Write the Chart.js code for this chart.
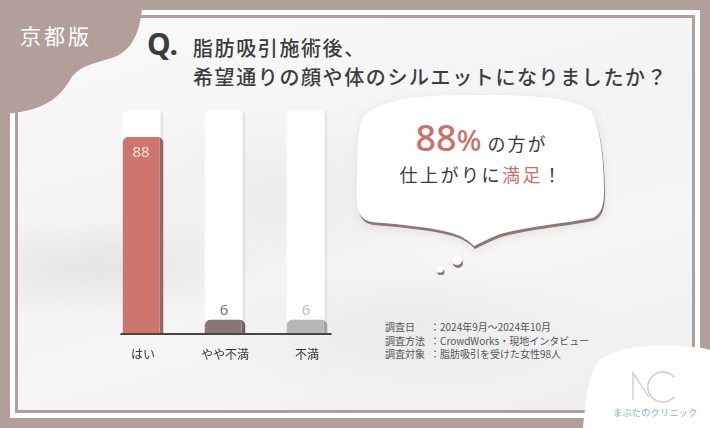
<!DOCTYPE html>
<html lang="ja">
<head>
<meta charset="utf-8">
<script src="https://cdn.jsdelivr.net/npm/chart.js@4.4.1/dist/chart.umd.min.js"></script>
<style>
  html, body { margin: 0; padding: 0; }
  body {
    width: 710px; height: 428px; position: relative; overflow: hidden;
    background: #b39f99;
    font-family: "Noto Sans CJK JP", "Noto Sans", sans-serif;
  }
  .frame { position: absolute; left: 10px; top: 10px; width: 690px; height: 408px; background: #fff; }
  .panel {
    position: absolute; left: 15px; top: 15px; width: 680px; height: 398px;
    box-sizing: border-box; border: 3px solid #b39f99;
    background:
      radial-gradient(ellipse 170px 50px at 80px 250px, rgba(222,222,222,0.7), rgba(222,222,222,0)),
      radial-gradient(ellipse 220px 70px at 380px 310px, rgba(228,228,228,0.6), rgba(228,228,228,0)),
      radial-gradient(ellipse 160px 90px at 260px 180px, rgba(232,232,232,0.6), rgba(232,232,232,0)),
      linear-gradient(165deg, #fafafa 0%, #f3f3f3 45%, #f6f6f6 65%, #eeeeee 100%);
  }
  svg.deco { position: absolute; left: 0; top: 0; }
  .area { position: absolute; color: #fff; font-size: 21px; letter-spacing: 3px; left: 20px; top: 20px; }
  .q { position: absolute; left: 147px; top: 23px; font-size: 30px; font-weight: 700; color: #3d3d3d; font-family: "Noto Sans", sans-serif; }
  .title { position: absolute; left: 193px; font-size: 20px; font-weight: 500; color: #3d3d3d; letter-spacing: 1.6px; white-space: nowrap; }
  .bubble-text { position: absolute; left: 360px; width: 243px; text-align: center; color: #3a3a3a; white-space: nowrap; }
  .red { color: #c9716b; }
  .note { position: absolute; left: 385px; top: 320px; font-size: 10px; line-height: 13.5px; color: #555; white-space: nowrap; }
  .note span { display: inline-block; width: 45px; }
  .brand { position: absolute; left: 613px; top: 406px; font-size: 9px; letter-spacing: 0.4px; color: #7eb4d2; white-space: nowrap; }
  canvas { position: absolute; left: 0; top: 0; }
</style>
</head>
<body>
<div class="frame"></div>
<div class="panel"></div>
<svg class="deco" width="710" height="428" viewBox="0 0 710 428">
  <defs>
    <filter id="bub" x="-10%" y="-10%" width="130%" height="140%">
      <feDropShadow dx="1" dy="3" stdDeviation="0.4" flood-color="#8e7873" flood-opacity="1"/>
      <feDropShadow dx="0" dy="2" stdDeviation="5" flood-color="#000" flood-opacity="0.08"/>
    </filter>
  </defs>
  <path d="M0,0 H143 C141,25 136,50 112,58 C92,64 80,66 71,78 C62,94 50,108 14,113 L0,114 Z" fill="#b39f99"/>
  <path d="M372,110 C395,96 440,95 482,95 C525,95 570,97 590,110 C600,123 604,160 604,190 C604,208 600,215 592,218 C560,224 530,226 500,234 C490,238 482,242 474,246 C468,240 462,236 452,233 C425,226 395,224 372,222 C362,220 357,214 357,200 C357,170 357,140 361,122 C363,116 366,113 372,110 Z" fill="#fff" filter="url(#bub)"/>
  <circle cx="457" cy="260" r="5" fill="#fff" filter="url(#bub)"/>
  <circle cx="440" cy="269" r="3.5" fill="#fff" filter="url(#bub)"/>
  <path d="M583,428 C586,400 588,372 600,360 C615,348 640,346 665,346 C690,346 705,348 710,350 V428 Z" fill="#fff"/>
  <path d="M633,400 V373 L649,397" fill="none" stroke="#c9c9c9" stroke-width="1.3"/>
  <path d="M674,377 A15,15 0 1 0 674,397" fill="none" stroke="#c9c9c9" stroke-width="1.3"/>
</svg>
<div class="area">京都版</div>
<div class="q">Q.</div>
<div class="title" style="top:33px">脂肪吸引施術後、</div>
<div class="title" style="top:62px">希望通りの顔や体のシルエットになりましたか？</div>
<div class="bubble-text" style="top:113px; font-size:18px; letter-spacing:2px;"><span class="red" style="font-family:'Noto Sans',sans-serif; font-size:36px; letter-spacing:0; font-weight:500;">88<span style="font-size:29px">%</span></span> の方が</div>
<div class="bubble-text" style="top:161px; font-size:18px; letter-spacing:2.5px;">仕上がりに<span class="red">満足</span>！</div>
<div class="note">
  <div><span>調査日</span>：2024年9月〜2024年10月</div>
  <div><span>調査方法</span>：CrowdWorks・現地インタビュー</div>
  <div><span>調査対象</span>：脂肪吸引を受けた女性98人</div>
</div>
<div class="brand">まぶたのクリニック</div>
<canvas id="surveyChart" width="710" height="428"></canvas>
<script>
const categories = ['はい', 'やや不満', '不満'];
const percentValues = [88, 6, 6];
const trackValues = [100, 100, 100];
const barColors = ['#cd756f', '#8b7677', '#b9b6b6'];
const barEdgeColors = ['#8d6a66', '#735f60', '#a4a1a1'];
const valueLabelColors = ['#fbe4dc', '#7a7070', '#c2bfbf'];

// baseline + value labels drawn from the bar elements
const barExtras = {
    id: 'barExtras',
    afterDatasetsDraw(chart) {
        const ctx = chart.ctx;
        const meta = chart.getDatasetMeta(0);
        const bars = meta.data;
        const first = bars[0].getProps(['x', 'width'], true);
        const last = bars[bars.length - 1].getProps(['x', 'width'], true);
        const yBase = chart.scales.y.getPixelForValue(0);

        ctx.save();
        ctx.strokeStyle = '#4a4545';
        ctx.lineWidth = 2;
        ctx.beginPath();
        ctx.moveTo(first.x - first.width / 2 - 2, yBase + 1);
        ctx.lineTo(last.x + last.width / 2 + 4, yBase + 1);
        ctx.stroke();

        ctx.font = '15px "Noto Sans", sans-serif';
        ctx.textAlign = 'center';
        ctx.textBaseline = 'middle';
        bars.forEach((bar, i) => {
            const p = bar.getProps(['x', 'y'], true);
            ctx.fillStyle = valueLabelColors[i];
            if (percentValues[i] > 20) {
                ctx.fillText(percentValues[i], p.x - 2, p.y + 16);
            } else {
                ctx.fillText(percentValues[i], p.x - 1, p.y - 9);
            }
        });
        ctx.restore();
    }
};

const ctx = document.getElementById('surveyChart').getContext('2d');
new Chart(ctx, {
    type: 'bar',
    data: {
        labels: categories,
        datasets: [{
            data: percentValues,
            backgroundColor: barColors,
            borderColor: barEdgeColors,
            borderWidth: { top: 0, right: 4, bottom: 0, left: 0 },
            borderSkipped: false,
            borderRadius: { topLeft: 6, topRight: 6, bottomLeft: 0, bottomRight: 0 },
            grouped: false,
            order: 1
        }, {
            data: trackValues,
            backgroundColor: '#fdfdfd',
            borderColor: '#e3e3e3',
            borderWidth: { top: 0, right: 3, bottom: 0, left: 0 },
            borderSkipped: false,
            borderRadius: { topLeft: 6, topRight: 6, bottomLeft: 0, bottomRight: 0 },
            grouped: false,
            order: 2
        }]
    },
    options: {
        responsive: false,
        animation: false,
        layout: { padding: { left: 102, right: 362, top: 110, bottom: 55 } },
        datasets: { bar: { barPercentage: 0.5, categoryPercentage: 1 } },
        plugins: { legend: { display: false }, tooltip: { enabled: false } },
        scales: {
            x: {
                grid: { display: false, drawTicks: false },
                border: { display: false },
                ticks: { color: '#333', padding: 14, font: { size: 12, family: '"Noto Sans CJK JP", sans-serif' } },
                afterFit(scale) { scale.height = 40; }
            },
            y: { display: false, min: 0, max: 100 }
        }
    },
    plugins: [barExtras]
});
</script>
</body>
</html>
